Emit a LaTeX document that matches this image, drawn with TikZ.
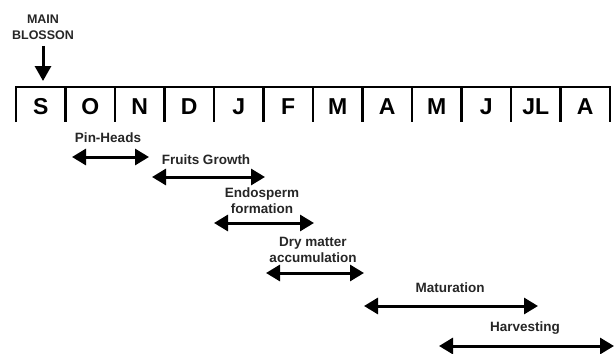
\documentclass[tikz,border=0pt]{standalone}
\usepackage{fontspec}
\setmainfont{Liberation Sans}
\usetikzlibrary{arrows.meta}
\begin{document}
\begin{tikzpicture}[x=1pt,y=-1pt,
 month/.style={font=\bfseries\fontsize{23}{23}\selectfont, inner sep=0pt},
 lbl/.style={font=\bfseries\fontsize{13.5}{16}\selectfont, align=center, inner sep=0pt, text=black!85},
 phase/.style={line width=3pt, {Triangle[length=14pt,width=16pt]}-{Triangle[length=14pt,width=16pt]}},
 bar/.style={line width=2.2pt},
]
\useasboundingbox (0,0) rectangle (615,353);
% timeline
\draw[bar] (16,122) -- (16,87) -- (610,87) -- (610,122);
\foreach \i in {1,...,11} \draw[bar] ({16+49.5*\i},87) -- ++(0,35);
\foreach \m [count=\i from 0] in {S,O,N,D,J,F,M,A,M,J,JL,A}
  \node[month] (m\i) at ({16+49.5*(\i+0.5)},107) {\m};
% main blossom
\node[lbl, font=\bfseries\fontsize{12.5}{16}\selectfont] (mb) at (43,27) {MAIN\\BLOSSON};
\coordinate (mbs) at (43,46);
\coordinate (mbe) at (43,81);
\draw[line width=3pt, -{Triangle[length=15pt,width=16pt]}] (mbs) -- (mbe);
% phases
\node[lbl] (ph) at (108,138) {Pin-Heads};
\coordinate (ph1) at (72,157); \coordinate (ph2) at (149,157);
\draw[phase] (ph1) -- (ph2);
\node[lbl] (fg) at (206,160) {Fruits Growth};
\coordinate (fg1) at (152,177); \coordinate (fg2) at (265,177);
\draw[phase] (fg1) -- (fg2);
\node[lbl] (ef) at (262,201) {Endosperm\\formation};
\coordinate (ef1) at (214,223); \coordinate (ef2) at (314,223);
\draw[phase] (ef1) -- (ef2);
\node[lbl] (dm) at (313,250) {Dry matter\\accumulation};
\coordinate (dm1) at (266,273); \coordinate (dm2) at (364,273);
\draw[phase] (dm1) -- (dm2);
\node[lbl] (ma) at (450,288) {Maturation};
\coordinate (ma1) at (364,306); \coordinate (ma2) at (538,306);
\draw[phase] (ma1) -- (ma2);
\node[lbl] (hv) at (525,328) {Harvesting};
\coordinate (hv1) at (439,346); \coordinate (hv2) at (614,346);
\draw[phase] (hv1) -- (hv2);
\end{tikzpicture}
\end{document}
